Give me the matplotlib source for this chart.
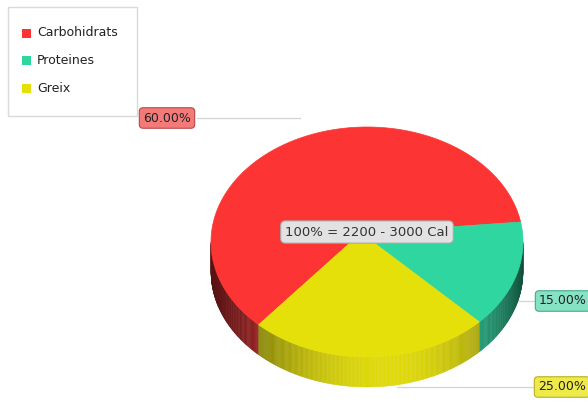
"""3D-style pie chart: daily calorie split (Carbohidrats / Proteines / Greix)."""
import numpy as np
import matplotlib
matplotlib.use('Agg')
import matplotlib.pyplot as plt
from matplotlib.patches import Polygon, Rectangle
from matplotlib.lines import Line2D

# Data
categories = ['Carbohidrats', 'Proteines', 'Greix']
values = [60.0, 15.0, 25.0]
center_label = '100% = 2200 - 3000 Cal'

# Colors
top_colors = ['#FC3434', '#2FD6A0', '#E6E00A']
label_faces = ['#F47A7A', '#86E2C4', '#EEEA4A']
label_edges = ['#B84848', '#48A886', '#B8B020']

# Pie geometry (pixel space)
CX, CY = 367, 242
APEX = (361, 233)  # slice apex, a bit above the ellipse centre (perspective)
A, B = 156, 115
DEPTH = 30
START = 226.0  # degrees, slices go clockwise

fig = plt.figure(figsize=(5.88, 4.03), dpi=100)
ax = fig.add_axes([0, 0, 1, 1])
ax.set_xlim(0, 588)
ax.set_ylim(403, 0)
ax.axis('off')


def ell(t_deg, dy=0.0):
    t = np.radians(t_deg)
    return CX + A * np.cos(t), CY - B * np.sin(t) + dy


def shade(rgb, t_deg):
    f = 0.35 + 0.62 * np.cos(np.radians(t_deg - 278)) ** 2
    return tuple(min(1.0, c * f) for c in rgb)


# slice angle ranges (clockwise from START)
angles = []
a0 = START
for v in values:
    a1 = a0 - v / sum(values) * 360.0
    angles.append((a1, a0))
    a0 = a1

# side walls: only the front half (180..360) is visible
for (lo, hi), col in zip(angles, top_colors):
    rgb = matplotlib.colors.to_rgb(col)
    for k in range(-1, 2):
        s_lo = max(lo + 360 * k, 180)
        s_hi = min(hi + 360 * k, 360)
        if s_hi <= s_lo:
            continue
        ts = np.linspace(s_lo, s_hi, int((s_hi - s_lo) * 2) + 2)
        for t0, t1 in zip(ts[:-1], ts[1:]):
            x0, y0 = ell(t0)
            x1, y1 = ell(t1)
            c = shade(rgb, (t0 + t1) / 2)
            quad = [(x0, y0), (x1, y1), (x1, y1 + DEPTH), (x0, y0 + DEPTH)]
            ax.add_patch(Polygon(quad, closed=True, facecolor=c, edgecolor=c,
                                 linewidth=0.3, zorder=1))

# top faces
for (lo, hi), col in zip(angles, top_colors):
    ts = np.linspace(lo, hi, 200)
    pts = [APEX] + [ell(t) for t in ts]
    ax.add_patch(Polygon(pts, closed=True, facecolor=col, edgecolor=col,
                         linewidth=0.5, zorder=2))

# leader lines
line_kw = dict(color='#D4D4D4', linewidth=0.9, zorder=0)
ax.add_line(Line2D([197, 300], [118, 118], **line_kw))
ax.add_line(Line2D([518, 536], [301, 301], **line_kw))
ax.add_line(Line2D([397, 534], [387, 387], **line_kw))

# percentage labels
label_pos = [(167, 118), (563, 301), (562, 387)]
for v, (x, y), fc, ec in zip(values, label_pos, label_faces, label_edges):
    ax.text(x, y, f'{v:.2f}%', ha='center', va='center', fontsize=9,
            color='#222222', zorder=5,
            bbox=dict(boxstyle='round,pad=0.3', facecolor=fc, edgecolor=ec, linewidth=0.8))

# center label
ax.text(367, 232, center_label, ha='center', va='center', fontsize=9.5,
        color='#333333', zorder=6,
        bbox=dict(boxstyle='round,pad=0.35', facecolor='#E2E2E2', edgecolor='#A8A8A8',
                  linewidth=0.8))

# legend box
ax.add_patch(Rectangle((8, 7), 129, 109, facecolor='white', edgecolor='#DADADA',
                       linewidth=1.0, zorder=3))
for i, (name, col) in enumerate(zip(categories, top_colors)):
    y = 33 + i * 27.5
    ax.add_patch(Rectangle((22, y - 4.5), 9, 9, facecolor=col, edgecolor='none', zorder=4))
    ax.text(37, y, name, ha='left', va='center', fontsize=9, color='#222222', zorder=4)

fig.savefig('out.png', dpi=100)
